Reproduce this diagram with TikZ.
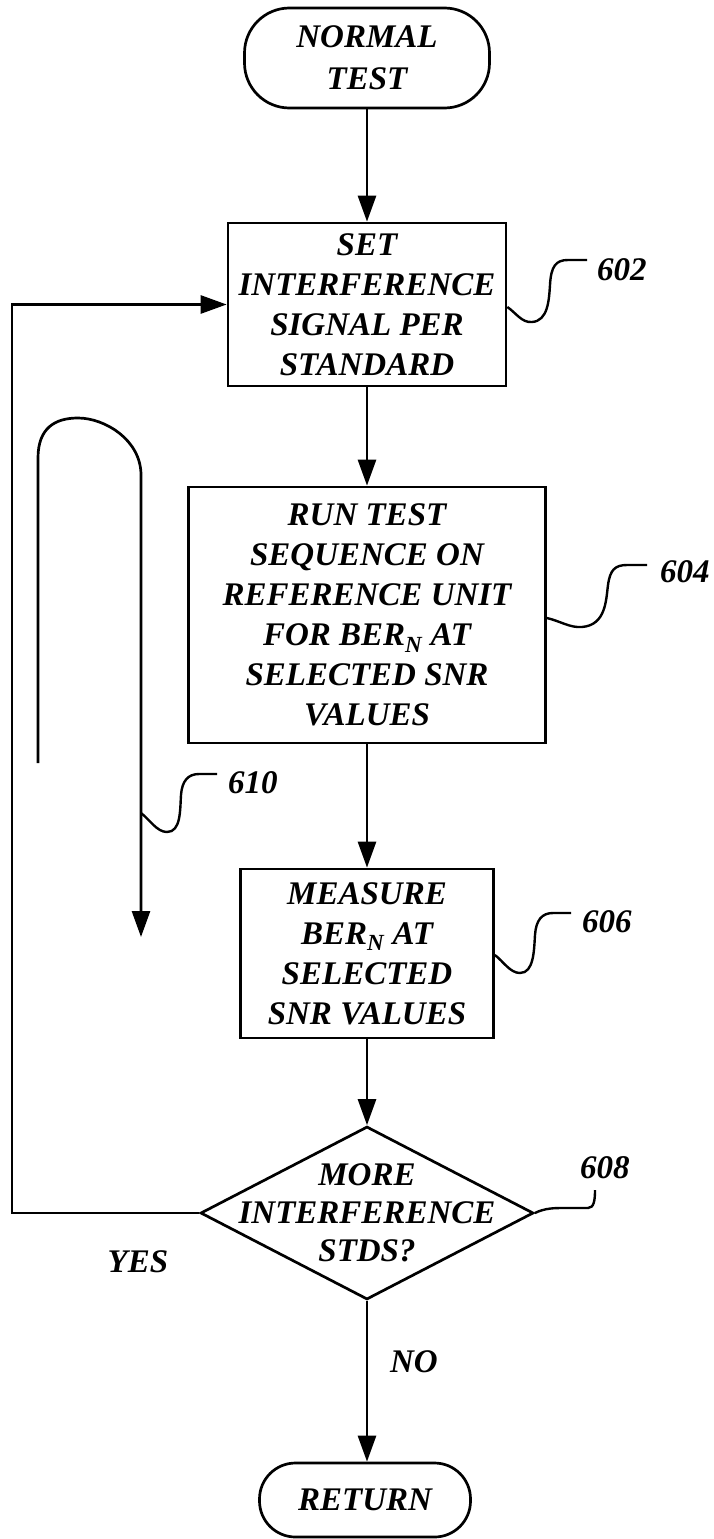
\documentclass[tikz,border=0pt]{standalone}
\usepackage{fontspec}
\setmainfont{Liberation Serif}
\usetikzlibrary{arrows.meta,shapes.geometric}
\begin{document}
\begin{tikzpicture}[x=1pt,y=-1pt,
  txt/.style={font=\fontsize{33}{40}\selectfont\bfseries\itshape},
  stroke/.style={line width=2.7pt},
  flow/.style={stroke, -{Triangle[length=26pt,width=18pt]}},
  leader/.style={line width=2.4pt},
  procbox/.style={txt, draw, stroke, align=center, inner sep=0pt},
  termbox/.style={txt, draw, stroke, align=center, inner sep=0pt, rounded corners=#1},
  decision/.style={draw, stroke, diamond, inner sep=0pt},
  reflabel/.style={txt, anchor=west, inner sep=0pt}
]
\useasboundingbox (0,0) rectangle (713,1539);

% main nodes
\node[termbox=45pt, minimum width=245pt, minimum height=100pt] (start) at (367,58) {NORMAL\\[2pt]TEST};
\node[procbox, minimum width=278pt, minimum height=163pt] (b602) at (367,304.5) {SET\\INTERFERENCE\\SIGNAL PER\\STANDARD};
\node[procbox, minimum width=357pt, minimum height=256pt] (b604) at (367,615) {RUN TEST\\SEQUENCE ON\\REFERENCE UNIT\\FOR BER\textsubscript{N} AT\\SELECTED SNR\\VALUES};
\node[procbox, minimum width=253pt, minimum height=169pt] (b606) at (367,953.5) {MEASURE\\BER\textsubscript{N} AT\\SELECTED\\SNR VALUES};
\node[decision, minimum width=333pt, minimum height=173pt] (d608) at (367,1213) {};
\node[txt, align=center, inner sep=0pt, font=\fontsize{33}{38}\selectfont\bfseries\itshape] (d608t) at (d608.center) {MORE\\INTERFERENCE\\STDS?};
\node[termbox=36pt, minimum width=211pt, minimum height=74pt] (ret) at (365,1500) {RETURN};

% flow connectors
\draw[flow] (start.south) -- (b602.north);
\draw[flow] (b602.south) -- (b604.north);
\draw[flow] (b604.south) -- (b606.north);
\draw[flow] (b606.south) -- (d608.north);
\draw[flow] (d608.south) -- (d608.south |- ret.north);
\coordinate (yescorner) at (12,1213);
\draw[flow] (d608.west) -- (yescorner) |- (b602.west);

% branch labels
\node[txt, inner sep=0pt] (yes) at (138,1262) {YES};
\node[txt, inner sep=0pt] (no) at (414,1362) {NO};

% loop symbol 610
\coordinate (loopa) at (38,763);
\coordinate (loopb) at (141,937);
\draw[flow] (loopa) -- (38,458) .. controls (38,428) and (55,418) .. (78,418)
  .. controls (105,418) and (141,440) .. (141,475) -- (loopb);

% reference labels with leaders
\node[reflabel] (n602) at (597,270) {602};
\draw[leader] (b602.east |- 0,307) .. controls (516,313) and (522,323) .. (532,322)
  .. controls (548,321) and (549,300) .. (550,285)
  .. controls (551,266) and (556,260) .. (568,260) -- (587,260);

\node[reflabel] (n604) at (660,572) {604};
\draw[leader] (b604.east |- 0,618) .. controls (560,621) and (570,628) .. (582,627)
  .. controls (606,625) and (606,600) .. (608,585)
  .. controls (610,570) and (615,565) .. (627,565) -- (647,565);

\node[reflabel] (n606) at (582,922) {606};
\draw[leader] (b606.east |- 0,955) .. controls (503,961) and (510,973) .. (520,973)
  .. controls (534,973) and (534,950) .. (535,935)
  .. controls (536,920) and (542,913) .. (553,913) -- (571,913);

\node[reflabel] (n608) at (580,1168) {608};
\draw[leader] (d608.east) .. controls (545,1208) and (555,1208) .. (563,1208) -- (588,1208)
  .. controls (594,1208) and (595,1200) .. (595,1190);

\node[reflabel] (n610) at (228,783) {610};
\draw[leader] (loopb |- 0,813) .. controls (150,820) and (157,832) .. (167,832)
  .. controls (181,832) and (180,810) .. (181,795)
  .. controls (182,781) and (188,774) .. (199,774) -- (217,774);
\end{tikzpicture}
\end{document}
